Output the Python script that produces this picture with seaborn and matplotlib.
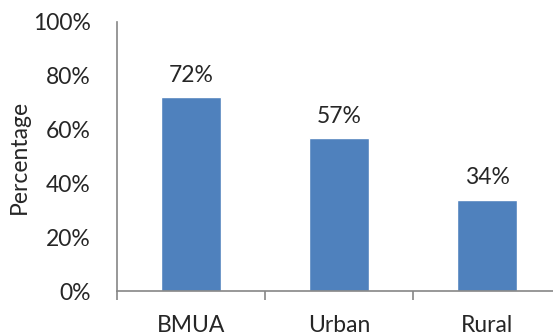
import matplotlib
matplotlib.use("Agg")
import matplotlib.pyplot as plt
import seaborn as sns
import pandas as pd

# data
areas = ["BMUA", "Urban", "Rural"]
share = [72, 57, 34]

sns.set_style("white")
plt.rcParams["font.family"] = ["Lato", "DejaVu Sans"]

df = pd.DataFrame({"area": areas, "pct": share})

fig = plt.figure(figsize=(5.53, 3.35), dpi=100)
ax = fig.add_axes([117 / 553, 44 / 335, 444 / 553, 269 / 335])

sns.barplot(data=df, x="area", y="pct", color="#4F81BD", width=0.4,
            saturation=1, ax=ax)

fs = 16.5
for i, v in enumerate(share):
    ax.annotate(f"{v}%", (i, v), xytext=(0, 8), textcoords="offset points",
                ha="center", va="bottom", fontsize=fs)

ax.set_xlim(-0.5, 2.5)
ax.set_ylim(0, 100)
ax.set_yticks(range(0, 101, 20))
ax.set_yticklabels([f"{t}%" for t in range(0, 101, 20)], fontsize=fs)
ax.set_xticks([0, 1, 2])
ax.set_xticklabels(areas, fontsize=fs)
ax.set_xticks([-0.5, 0.5, 1.5], minor=True)

grey = "#868686"
for side in ["top", "right"]:
    ax.spines[side].set_visible(False)
for side in ["left", "bottom"]:
    ax.spines[side].set_color(grey)
    ax.spines[side].set_linewidth(1.2)

ax.tick_params(axis="y", which="major", length=6, color=grey, width=1.2, pad=13)
ax.tick_params(axis="x", which="major", length=0, pad=17)
ax.tick_params(axis="x", which="minor", length=6.5, color=grey, width=1.2,
               direction="out", bottom=True)

ax.set_xlabel("")
ax.set_ylabel("Percentage", fontsize=fs, labelpad=2)

fig.savefig("out.png", dpi=100)
